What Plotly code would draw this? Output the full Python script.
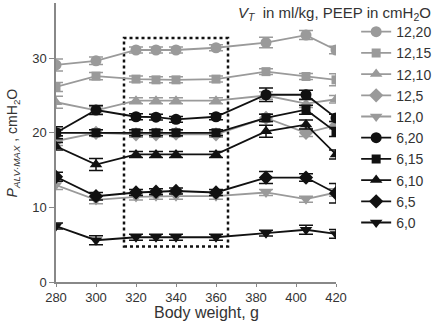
import plotly.graph_objects as go

weights = [280, 300, 320, 330, 340, 360, 385, 405, 420]

series_names = ["12,20", "12,15", "12,10", "12,5", "12,0",
                "6,20", "6,15", "6,10", "6,5", "6,0"]

v12_20 = [29.1, 29.65, 31.1, 31.1, 31.1, 31.4, 32.1, 33.1, 31.1]
v12_15 = [26.15, 27.6, 27.2, 27.1, 27.1, 27.2, 28.2, 27.55, 27.1]
v12_10 = [24.1, 23.0, 24.3, 24.3, 24.3, 24.3, 25.0, 23.9, 24.5]
v12_5 = [18.9, 20.0, 19.8, 19.8, 19.9, 19.8, 22.0, 20.0, 21.0]
v12_0 = [13.0, 11.0, 11.4, 11.5, 11.5, 11.5, 12.0, 11.1, 12.0]
v6_20 = [20.0, 23.05, 22.15, 22.1, 21.8, 22.15, 25.1, 25.1, 22.0]
v6_15 = [20.0, 20.0, 20.0, 20.0, 20.0, 20.0, 22.0, 23.1, 20.1]
v6_10 = [18.2, 15.75, 17.1, 17.1, 17.1, 17.1, 20.2, 21.1, 17.1]
v6_5 = [14.1, 11.5, 12.0, 12.1, 12.2, 12.0, 14.0, 14.0, 11.9]
v6_0 = [7.5, 5.6, 6.0, 6.0, 6.0, 6.0, 6.55, 7.0, 6.45]

e12_20 = [0.8, 0.5, 0.4, 0.4, 0.4, 0.4, 0.7, 0.6, 0.5]
e12_15 = [0.6, 0.5, 0.4, 0.4, 0.4, 0.4, 0.4, 0.4, 0.8]
e12_10 = [0.8, 0.5, 0.4, 0.4, 0.4, 0.4, 0.5, 0.5, 0.5]
e12_5 = [0.6, 0.4, 0.4, 0.4, 0.4, 0.4, 0.5, 0.5, 0.5]
e12_0 = [0.6, 0.5, 0.4, 0.4, 0.4, 0.4, 0.4, 0.4, 0.5]
e6_20 = [0.8, 0.6, 0.4, 0.4, 0.4, 0.4, 0.9, 0.6, 0.5]
e6_15 = [0.4, 0.4, 0.4, 0.4, 0.4, 0.4, 0.5, 0.6, 0.6]
e6_10 = [0.5, 0.8, 0.4, 0.4, 0.4, 0.4, 0.8, 0.6, 0.6]
e6_5 = [0.6, 0.5, 0.4, 0.4, 0.4, 0.4, 0.8, 0.5, 1.3]
e6_0 = [0.4, 0.6, 0.4, 0.4, 0.4, 0.4, 0.4, 0.6, 0.6]

values = [v12_20, v12_15, v12_10, v12_5, v12_0, v6_20, v6_15, v6_10, v6_5, v6_0]
errors = [e12_20, e12_15, e12_10, e12_5, e12_0, e6_20, e6_15, e6_10, e6_5, e6_0]
symbols = ["circle", "square", "triangle-up", "diamond", "triangle-down"] * 2
sizes = [11, 9, 11, 11, 11, 11, 9, 11, 11, 11]

highlight_box = {"x0": 314, "x1": 366, "y0": 4.75, "y1": 32.7}

GREY = "#9a9a9a"
BLACK = "#111111"
TXT = "#333333"
FONT = "Liberation Sans, Arial, sans-serif"

fig = go.Figure()
for i, name in enumerate(series_names):
    col = GREY if i < 5 else BLACK
    fig.add_trace(go.Scatter(
        x=weights, y=values[i], name=name, mode="lines+markers",
        line=dict(color=col, width=1.8),
        marker=dict(symbol=symbols[i], size=sizes[i], color=col, line=dict(width=0)),
        error_y=dict(type="data", array=errors[i], color=col, thickness=1.5, width=7),
    ))

fig.add_shape(type="rect", xref="x", yref="y",
              x0=highlight_box["x0"], x1=highlight_box["x1"],
              y0=highlight_box["y0"], y1=highlight_box["y1"],
              line=dict(color=BLACK, width=2.5, dash="dot"), layer="below")

# legend heading
fig.add_annotation(xref="paper", yref="paper", x=0.643, y=0.962, xanchor="left", yanchor="middle",
                   showarrow=False,
                   text="<i>V<sub>T</sub></i>  in ml/kg, PEEP in cmH<sub>2</sub>O",
                   font=dict(family=FONT, size=15, color=TXT))
# x axis title
fig.add_annotation(xref="paper", yref="paper", x=0.539, y=-0.1434, xanchor="center", yanchor="bottom",
                   showarrow=False, text="Body weight, g", borderpad=0,
                   font=dict(family=FONT, size=16, color=TXT))
# y axis title
fig.add_annotation(xref="paper", yref="paper", x=-0.154, y=0.5, xanchor="center", yanchor="middle",
                   showarrow=False, textangle=-90,
                   text="<i>P<sub>ALV·MAX</sub></i> , cmH<sub>2</sub>O",
                   font=dict(family=FONT, size=14, color=TXT))

fig.update_layout(
    width=440, height=323,
    margin=dict(l=56, r=104, t=3, b=41, autoexpand=False),
    paper_bgcolor="white", plot_bgcolor="white",
    font=dict(family=FONT, size=14, color=TXT),
    showlegend=True,
    legend=dict(x=1.072, y=0.953, xanchor="left", yanchor="top",
                font=dict(family=FONT, size=14, color=TXT),
                itemwidth=30, tracegroupgap=0, bgcolor="rgba(0,0,0,0)"),
    xaxis=dict(range=[280, 420], tickvals=[280, 300, 320, 340, 360, 380, 400, 420],
               automargin=False,
               showgrid=False, zeroline=False, showline=True, linecolor="#888", linewidth=1.5,
               ticks="outside", ticklen=3, tickcolor="#888", tickwidth=1.2,
               tickfont=dict(size=13, color=TXT)),
    yaxis=dict(range=[0, 37.4], tickvals=[0, 10, 20, 30],
               automargin=False,
               showgrid=False, zeroline=False, showline=True, linecolor="#888", linewidth=1.5,
               ticks="outside", ticklen=5, tickcolor="#888", tickwidth=1.2,
               tickfont=dict(size=13, color=TXT)),
)

fig.write_html("out.html", config={"displayModeBar": False},
               post_script="document.body.style.margin='0';")
